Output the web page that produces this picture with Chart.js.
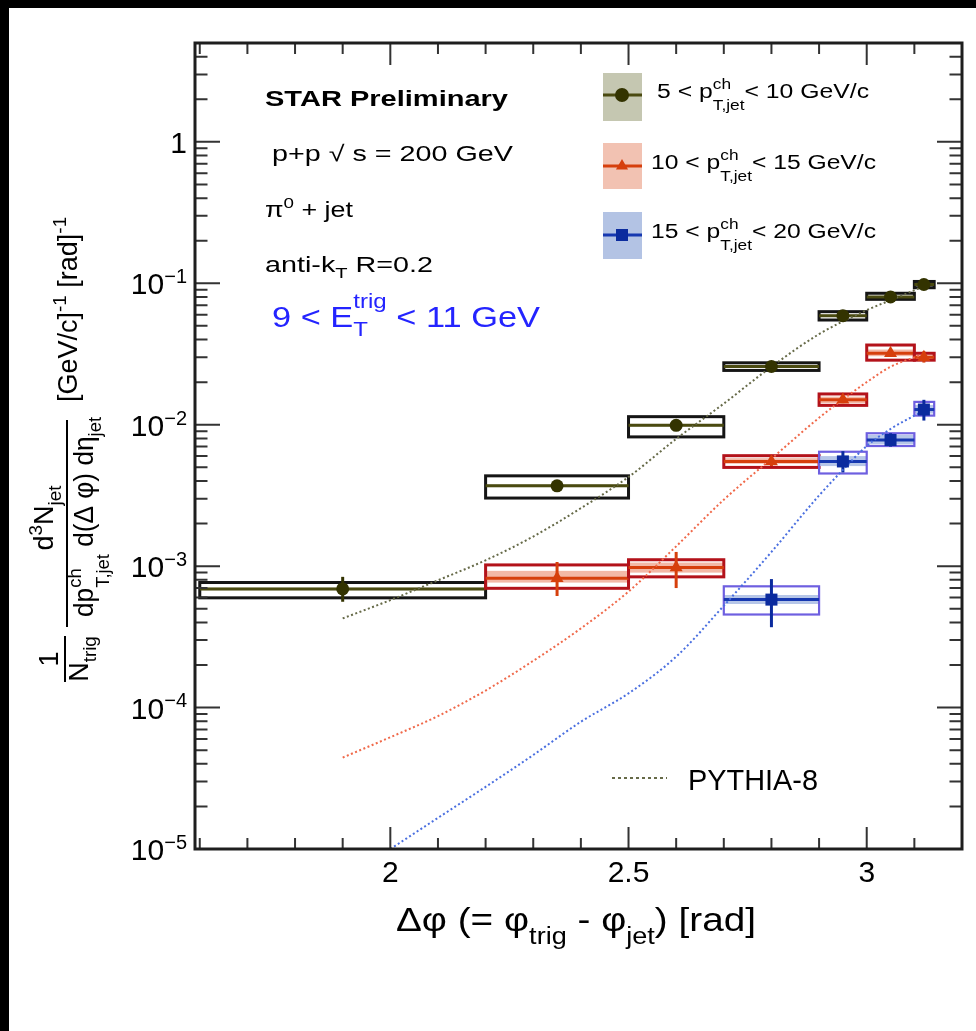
<!DOCTYPE html>
<html><head><meta charset="utf-8">
<script src="https://cdn.jsdelivr.net/npm/chart.js@4.4.1/dist/chart.umd.min.js"></script>
<style>html,body{margin:0;padding:0;background:#fff;overflow:hidden}canvas{display:block}</style>
</head><body>
<canvas id="c" width="976" height="1031" style="width:976px;height:1031px"></canvas>
<script>
// ---------------- data ----------------
const binLo = [1.6, 2.2, 2.5, 2.7, 2.9, 3.0, 3.1];
const binHi = [2.2, 2.5, 2.7, 2.9, 3.0, 3.1, 3.1416];
const binX  = [1.9, 2.35, 2.6, 2.8, 2.95, 3.05, 3.12];

// 5 < pT,jet < 10 GeV/c  (bins 0..6)
const s1Bins   = [0, 1, 2, 3, 4, 5, 6];
const s1Y      = [6.9e-4, 3.7e-3, 9.9e-3, 2.58e-2, 5.9e-2, 8.0e-2, 9.8e-2];
const s1ErrLo  = [5.6e-4, 3.35e-3, 9.4e-3, 2.48e-2, 5.7e-2, 7.8e-2, 9.5e-2];
const s1ErrHi  = [8.4e-4, 4.05e-3, 1.04e-2, 2.68e-2, 6.1e-2, 8.2e-2, 1.01e-1];
const s1SysLo  = [5.97e-4, 3.03e-3, 8.2e-3, 2.42e-2, 5.5e-2, 7.7e-2, 9.3e-2];
const s1SysHi  = [7.66e-4, 4.35e-3, 1.14e-2, 2.74e-2, 6.3e-2, 8.5e-2, 1.03e-1];
const s1BandLo = [6.75e-4, 3.62e-3, 9.7e-3, 2.53e-2, 5.8e-2, 7.85e-2, 9.6e-2];
const s1BandHi = [7.05e-4, 3.78e-3, 1.01e-2, 2.63e-2, 6.0e-2, 8.15e-2, 1.0e-1];

// 10 < pT,jet < 15 GeV/c  (bins 1..6)
const s2Bins   = [1, 2, 3, 4, 5, 6];
const s2Y      = [8.2e-4, 9.8e-4, 5.5e-3, 1.5e-2, 3.2e-2, 3.0e-2];
const s2ErrLo  = [6.15e-4, 7.0e-4, 5.1e-3, 1.42e-2, 3.05e-2, 2.75e-2];
const s2ErrHi  = [1.07e-3, 1.26e-3, 5.9e-3, 1.58e-2, 3.35e-2, 3.3e-2];
const s2SysLo  = [6.97e-4, 8.4e-4, 4.99e-3, 1.37e-2, 2.86e-2, 2.86e-2];
const s2SysHi  = [1.02e-3, 1.11e-3, 6.04e-3, 1.65e-2, 3.66e-2, 3.2e-2];
const s2BandLo = [7.65e-4, 9.0e-4, 5.3e-3, 1.42e-2, 3.05e-2, 2.9e-2];
const s2BandHi = [9.26e-4, 1.06e-3, 5.8e-3, 1.58e-2, 3.4e-2, 3.1e-2];

// 15 < pT,jet < 20 GeV/c  (bins 3..6)
const s3Bins   = [3, 4, 5, 6];
const s3Y      = [5.8e-4, 5.5e-3, 7.8e-3, 1.28e-2];
const s3ErrLo  = [3.7e-4, 4.6e-3, 7.0e-3, 1.07e-2];
const s3ErrHi  = [8.1e-4, 6.5e-3, 8.7e-3, 1.5e-2];
const s3SysLo  = [4.55e-4, 4.52e-3, 7.07e-3, 1.16e-2];
const s3SysHi  = [7.2e-4, 6.44e-3, 8.7e-3, 1.45e-2];
const s3BandLo = [5.4e-4, 5.1e-3, 7.27e-3, 1.2e-2];
const s3BandHi = [6.25e-4, 6.0e-3, 8.46e-3, 1.38e-2];

// PYTHIA-8 curves
const py1X = [1.9, 2.0, 2.1, 2.2, 2.3, 2.4, 2.5, 2.6, 2.7, 2.8, 2.9, 3.0, 3.05, 3.12];
const py1Y = [4.27e-4, 5.75e-4, 7.94e-4, 1.10e-3, 1.62e-3, 2.57e-3, 4.27e-3, 7.94e-3, 1.41e-2, 2.57e-2, 4.37e-2, 6.46e-2, 7.59e-2, 9.55e-2];
const py2X = [1.9, 2.0, 2.1, 2.2, 2.3, 2.4, 2.5, 2.6, 2.7, 2.8, 2.9, 2.95, 3.0, 3.05, 3.12];
const py2Y = [4.43e-5, 6.17e-5, 8.71e-5, 1.32e-4, 2.14e-4, 3.63e-4, 6.61e-4, 1.38e-3, 2.95e-3, 5.75e-3, 1.12e-2, 1.51e-2, 2.0e-2, 2.57e-2, 3.16e-2];
const py3X = [2.0, 2.1, 2.2, 2.3, 2.4, 2.5, 2.6, 2.7, 2.8, 2.9, 2.95, 3.0, 3.05, 3.12];
const py3Y = [1.0e-5, 1.66e-5, 2.75e-5, 4.62e-5, 7.94e-5, 1.26e-4, 2.29e-4, 5.25e-4, 1.26e-3, 3.16e-3, 4.79e-3, 7.08e-3, 9.33e-3, 1.26e-2];

// axis ticks
const xMajor = [2, 2.5, 3];
const xMajorLabels = ['2', '2.5', '3'];
const yDecades = [-5, -4, -3, -2, -1, 0];

// ---------------- styles ----------------
const C1 = {marker:'#333300', line:'#4a4a10', box:'#151515', band:'#c5c7b1', py:'#666a48', sw:'#c5c7b1'};
const C2 = {marker:'#d63f0c', line:'#d63f0c', box:'#b3121a', band:'#f3b8a6', py:'#f0694a', sw:'#f2c2b2'};
const C3 = {marker:'#0b2b9e', line:'#1638b0', box:'#6e5fe0', band:'#b6c6e8', py:'#4a6fe0', sw:'#b3c3e4'};

const series = [
  {bins:s1Bins, y:s1Y, eLo:s1ErrLo, eHi:s1ErrHi, sLo:s1SysLo, sHi:s1SysHi, bLo:s1BandLo, bHi:s1BandHi, c:C1, boxW:3},
  {bins:s2Bins, y:s2Y, eLo:s2ErrLo, eHi:s2ErrHi, sLo:s2SysLo, sHi:s2SysHi, bLo:s2BandLo, bHi:s2BandHi, c:C2, boxW:3},
  {bins:s3Bins, y:s3Y, eLo:s3ErrLo, eHi:s3ErrHi, sLo:s3SysLo, sHi:s3SysHi, bLo:s3BandLo, bHi:s3BandHi, c:C3, boxW:2.2}
];

// ---------------- text helpers ----------------
const FF = '"Liberation Sans", Arial, Helvetica, sans-serif';
function fnt(sz, b){ return (b ? 'bold ' : '') + sz.toFixed(2) + 'px ' + FF; }
function layout(ctx, items, F, bold){
  const out = []; let x = 0;
  for (const it of items){
    if (typeof it === 'string'){
      const f = fnt(F, bold); ctx.font = f;
      out.push({t:it, x, y:0, f}); x += ctx.measureText(it).width;
    } else {
      const fs = F * (it.scale || 0.7); const f = fnt(fs, bold); ctx.font = f; let w = 0;
      if (it.sup != null){ out.push({t:it.sup, x, y:-F*(it.up || 0.42), f}); w = Math.max(w, ctx.measureText(it.sup).width); }
      if (it.sub != null){ out.push({t:it.sub, x, y:F*(it.down || 0.25), f}); w = Math.max(w, ctx.measureText(it.sub).width); }
      x += w + (it.pad || 0);
    }
  }
  return {out, w:x};
}
function drawText(ctx, items, o){
  ctx.save();
  const L = layout(ctx, items, o.F, o.bold);
  const sx = o.width ? o.width / L.w : (o.sx || 1);
  ctx.translate(o.x, o.y);
  if (o.rot) ctx.rotate(o.rot);
  ctx.scale(sx, 1);
  const dx = o.align === 'center' ? -L.w/2 : (o.align === 'right' ? -L.w : 0);
  ctx.fillStyle = o.color || '#000'; ctx.textBaseline = 'alphabetic'; ctx.textAlign = 'left';
  for (const p of L.out){ ctx.font = p.f; ctx.fillText(p.t, p.x + dx, p.y); }
  ctx.restore();
}
function marker(ctx, kind, x, y, r, color){
  ctx.save(); ctx.fillStyle = color; ctx.beginPath();
  if (kind === 'circle'){ ctx.arc(x, y, r, 0, Math.PI*2); }
  else if (kind === 'triangle'){ ctx.moveTo(x, y - r); ctx.lineTo(x + r*0.866, y + r*0.5); ctx.lineTo(x - r*0.866, y + r*0.5); ctx.closePath(); }
  else { ctx.rect(x - r*0.707, y - r*0.707, r*1.414, r*1.414); }
  ctx.fill(); ctx.restore();
}

// ---------------- plugins ----------------
const bgPlugin = {
  id:'bg',
  beforeDraw(chart){
    const ctx = chart.ctx, W = ctx.canvas.width, H = ctx.canvas.height;
    ctx.save();
    ctx.fillStyle = '#fff'; ctx.fillRect(0, 0, W, H);
    ctx.fillStyle = '#000'; ctx.fillRect(0, 0, W, 8); ctx.fillRect(0, 0, 9, H);
    ctx.restore();
  }
};

const boxPlugin = {
  id:'boxes',
  beforeDatasetsDraw(chart){
    const ctx = chart.ctx, X = chart.scales.x, Y = chart.scales.y, ca = chart.chartArea;
    const px = v => X.getPixelForValue(v), py = v => Y.getPixelForValue(v);
    ctx.save();
    ctx.beginPath(); ctx.rect(ca.left, ca.top, ca.right - ca.left, ca.bottom - ca.top); ctx.clip();
    for (const s of series){
      s.bins.forEach((b, i) => {
        const x0 = px(binLo[b]), x1 = px(binHi[b]);
        ctx.fillStyle = s.c.band;
        ctx.fillRect(x0, py(s.bHi[i]), x1 - x0, py(s.bLo[i]) - py(s.bHi[i]));
        ctx.strokeStyle = s.c.box; ctx.lineWidth = s.boxW;
        ctx.strokeRect(x0, py(s.sHi[i]), x1 - x0, py(s.sLo[i]) - py(s.sHi[i]));
        ctx.strokeStyle = s.c.line; ctx.lineWidth = 3;
        ctx.beginPath(); ctx.moveTo(x0, py(s.y[i])); ctx.lineTo(x1, py(s.y[i])); ctx.stroke();
        const xc = px(binX[b]);
        ctx.strokeStyle = s.c.marker; ctx.lineWidth = 3;
        ctx.beginPath(); ctx.moveTo(xc, py(s.eLo[i])); ctx.lineTo(xc, py(s.eHi[i])); ctx.stroke();
      });
    }
    ctx.restore();
  }
};

const framePlugin = {
  id:'frame',
  afterDraw(chart){
    const ctx = chart.ctx, X = chart.scales.x, Y = chart.scales.y, ca = chart.chartArea;
    const px = v => X.getPixelForValue(v), py = v => Y.getPixelForValue(v);
    ctx.save();
    ctx.strokeStyle = '#333'; ctx.lineWidth = 2;
    ctx.beginPath();
    for (let k = 16; k <= 32; k++){
      const v = k / 10; const x = px(v);
      if (x < ca.left || x > ca.right) continue;
      const major = (k % 5 === 0);
      const L = major ? 22 : 11;
      ctx.moveTo(x, ca.bottom); ctx.lineTo(x, ca.bottom - L);
      ctx.moveTo(x, ca.top); ctx.lineTo(x, ca.top + L);
    }
    for (let d = -5; d <= 0; d++){
      for (let m = 1; m <= 9; m++){
        const v = m * Math.pow(10, d);
        if (v < Y.min || v > Y.max) continue;
        const y = py(v); const L = (m === 1) ? 25 : 12.5;
        ctx.moveTo(ca.left, y); ctx.lineTo(ca.left + L, y);
        ctx.moveTo(ca.right, y); ctx.lineTo(ca.right - L, y);
      }
    }
    ctx.stroke();
    ctx.strokeStyle = '#1e1e1e'; ctx.lineWidth = 3;
    ctx.strokeRect(ca.left, ca.top, ca.right - ca.left, ca.bottom - ca.top);

    xMajor.forEach((v, i) => drawText(ctx, [xMajorLabels[i]], {x:px(v), y:882, F:30, align:'center'}));
    yDecades.forEach(d => {
      const y = py(Math.pow(10, d));
      const items = d === 0 ? ['1'] : ['10', {sup:'\u2212' + (-d), scale:0.667, up:0.37}];
      drawText(ctx, items, {x:187, y:y + 11, F:30, align:'right'});
    });

    drawText(ctx, ['\u0394\u03c6 (= \u03c6', {sub:'trig', down:0.4}, ' - \u03c6', {sub:'jet', down:0.4}, ') [rad]'],
      {x:576, y:931, F:33, align:'center', width:360});
    const R = -Math.PI/2;
    drawText(ctx, ['1'], {x:58, y:659, F:27, align:'center', rot:R});
    drawText(ctx, ['N', {sub:'trig', down:0.3}], {x:88, y:659, F:27, align:'center', rot:R});
    drawText(ctx, ['d', {sup:'3'}, 'N', {sub:'jet', down:0.3}], {x:53, y:518, F:27, align:'center', rot:R});
    drawText(ctx, ['dp', {sup:'ch', sub:'T,jet', up:0.45, down:0.58}, ' d(\u0394 \u03c6) d\u03b7', {sub:'jet', down:0.3}], {x:93, y:517, F:27, align:'center', rot:R, width:200});
    drawText(ctx, ['[GeV/c]', {sup:'-1'}, ' [rad]', {sup:'-1'}], {x:77, y:402, F:27, align:'left', rot:R});
    ctx.strokeStyle = '#000'; ctx.lineWidth = 2;
    ctx.beginPath(); ctx.moveTo(67, 420); ctx.lineTo(67, 627); ctx.moveTo(65, 636); ctx.lineTo(65, 682); ctx.stroke();

    drawText(ctx, ['STAR Preliminary'], {x:265, y:106, F:22, bold:true, width:243});
    drawText(ctx, ['p+p \u221a s = 200 GeV'], {x:272, y:161, F:22, width:241});
    drawText(ctx, ['\u03c0', {sup:'0', up:0.4}, ' + jet'], {x:265, y:217, F:22, width:88});
    drawText(ctx, ['anti-k', {sub:'T'}, ' R=0.2'], {x:265, y:272, F:22, width:168});
    drawText(ctx, ['9 < E', {sup:'trig', sub:'T', up:0.66, down:0.3}, ' < 11 GeV'], {x:272, y:327, F:29, width:268, color:'#2424ff'});

    const leg = [
      {c:C1, kind:'circle', top:73, bot:121, ly:95, items:['5 < p', {sup:'ch', sub:'T,jet', up:0.45, down:0.58}, '< 10 GeV/c'], tx:657, ty:98, w:212},
      {c:C2, kind:'triangle', top:143, bot:189, ly:166, items:['10 < p', {sup:'ch', sub:'T,jet', up:0.45, down:0.58}, '< 15 GeV/c'], tx:651, ty:169, w:225},
      {c:C3, kind:'square', top:212, bot:259, ly:235, items:['15 < p', {sup:'ch', sub:'T,jet', up:0.45, down:0.58}, '< 20 GeV/c'], tx:651, ty:238, w:225}
    ];
    for (const e of leg){
      ctx.fillStyle = e.c.sw; ctx.fillRect(603, e.top, 39, e.bot - e.top);
      ctx.strokeStyle = e.c.line; ctx.lineWidth = 3;
      ctx.beginPath(); ctx.moveTo(603, e.ly); ctx.lineTo(642, e.ly); ctx.stroke();
      marker(ctx, e.kind, 622, e.ly, e.kind === 'square' ? 8.5 : 7, e.c.marker);
      drawText(ctx, e.items, {x:e.tx, y:e.ty, F:20, width:e.w});
    }
    ctx.strokeStyle = C1.py; ctx.lineWidth = 2; ctx.setLineDash([3, 3]);
    ctx.beginPath(); ctx.moveTo(612, 778); ctx.lineTo(667, 778); ctx.stroke(); ctx.setLineDash([]);
    drawText(ctx, ['PYTHIA-8'], {x:688, y:790, F:29, width:130});
    ctx.restore();
  }
};

// ---------------- chart ----------------
const mk = (xs, ys) => xs.map((x, i) => ({x, y:ys[i]}));
const pts = s => s.bins.map((b, i) => ({x:binX[b], y:s.y[i]}));

new Chart(document.getElementById('c').getContext('2d'), {
  type:'scatter',
  data:{ datasets:[
    {type:'scatter', data:pts(series[0]), pointStyle:'circle', pointRadius:6.5, backgroundColor:C1.marker, borderColor:C1.marker, borderWidth:0, order:0},
    {type:'scatter', data:pts(series[1]), pointStyle:'triangle', pointRadius:7.5, backgroundColor:C2.marker, borderColor:C2.marker, borderWidth:0, order:0},
    {type:'scatter', data:pts(series[2]), pointStyle:'rect', pointRadius:8.5, backgroundColor:C3.marker, borderColor:C3.marker, borderWidth:0, order:0},
    {type:'line', data:mk(py1X, py1Y), borderColor:C1.py, borderWidth:2, borderDash:[2,2.5], pointRadius:0, fill:false, cubicInterpolationMode:'monotone', order:1},
    {type:'line', data:mk(py2X, py2Y), borderColor:C2.py, borderWidth:2, borderDash:[2,2.5], pointRadius:0, fill:false, cubicInterpolationMode:'monotone', order:1},
    {type:'line', data:mk(py3X, py3Y), borderColor:C3.py, borderWidth:2, borderDash:[2,2.5], pointRadius:0, fill:false, cubicInterpolationMode:'monotone', order:1}
  ]},
  options:{
    responsive:false, animation:false, devicePixelRatio:1,
    layout:{ padding:{left:195, top:43, right:14, bottom:182} },
    scales:{
      x:{type:'linear', min:1.59, max:3.2, display:false},
      y:{type:'logarithmic', min:1e-5, max:5, display:false}
    },
    plugins:{ legend:{display:false}, tooltip:{enabled:false} },
    events:[]
  },
  plugins:[bgPlugin, boxPlugin, framePlugin]
});
</script>
</body></html>
